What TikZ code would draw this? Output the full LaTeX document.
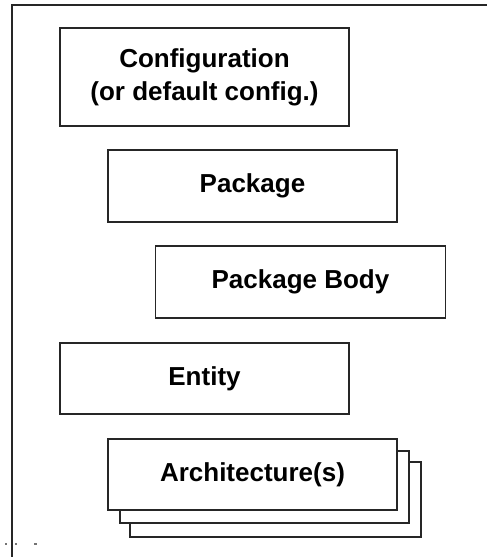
\documentclass[tikz,border=0pt]{standalone}
\usepackage{fontspec}
\setmainfont{Liberation Sans}
\begin{document}
\begin{tikzpicture}[x=1pt,y=-1pt,
  blk/.style={draw=black!85, line width=1.8pt, fill=white, rectangle, inner sep=0pt,
    minimum width=289pt, minimum height=72pt, align=center,
    font=\fontsize{26}{33}\selectfont\bfseries},
  frame/.style={draw=black!85, line width=1.9pt},
  speck/.style={fill=black!55}]
\useasboundingbox (0,0) rectangle (487,557);
\clip (0,0) rectangle (487,557);
\fill[white] (0,0) rectangle (487,557);
% outer frame (open to the right and bottom)
\coordinate (fb) at (12,560);
\coordinate (fc) at (12,5);
\coordinate (fr) at (490,5);
\draw[frame] (fb) -- (fc) -- (fr);
% boxes
\node[blk, minimum height=98pt] (config) at (204.5,77) {Configuration\\(or default config.)};
\node[blk] (pkg) at (252.5,186) {Package};
\node[blk, minimum width=290pt] (body) at (300.5,282) {Package Body};
\node[blk, minimum height=71pt] (entity) at (204.5,378.5) {Entity};
% architecture stack
\node[blk, minimum width=291pt, minimum height=75pt] (arch3) at (275.5,499.5) {};
\node[blk, minimum width=289pt, minimum height=72pt] (arch2) at (264.5,487) {};
\node[blk, minimum width=289pt, minimum height=71pt] (arch) at (252.5,474.5) {Architecture(s)};
% specks
\fill[speck] (5,542.5) rectangle (7,544.5);
\fill[speck] (15,542.5) rectangle (17,544.5);
\fill[speck] (34,543) rectangle (37,545);
\end{tikzpicture}
\end{document}
